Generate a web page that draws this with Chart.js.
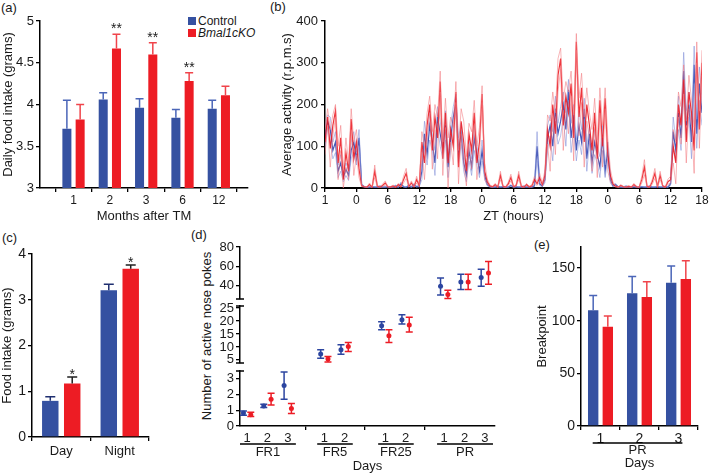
<!DOCTYPE html>
<html><head><meta charset="utf-8">
<script src="https://cdn.jsdelivr.net/npm/chart.js@4.4.1/dist/chart.umd.min.js"></script>
<style>
html,body{margin:0;padding:0;background:#fff;}
body{position:relative;width:709px;height:474px;overflow:hidden;font-family:'Liberation Sans',Arial,Helvetica,sans-serif;color:#1a1a1a;}
canvas{position:absolute;}
.t{position:absolute;white-space:nowrap;line-height:1;}
.sq{position:absolute;width:8px;height:8px;}
</style></head><body>
<div class="t" style="left:1px;top:0.5px;font-size:13px">(a)</div>
<div class="t" style="left:270px;top:0px;font-size:13px">(b)</div>
<div class="t" style="left:2px;top:230.5px;font-size:13px">(c)</div>
<div class="t" style="left:191px;top:228px;font-size:13px">(d)</div>
<div class="t" style="left:534px;top:238px;font-size:13px">(e)</div>
<div class="sq" style="left:188px;top:17px;background:#3551a1"></div>
<div class="t" style="left:198px;top:15px;font-size:12px">Control</div>
<div class="sq" style="left:188px;top:29px;background:#ed1c24"></div>
<div class="t" style="left:198px;top:27px;font-size:12px;font-style:italic">Bmal1cKO</div>
<div class="t" style="left:205.5px;top:336px;font-size:13px;transform:translate(-50%,-50%) rotate(-90deg)">Number of active nose pokes</div>

<canvas id="ca" width="258" height="224" style="left:0;top:0"></canvas>
<canvas id="cb" width="451" height="224" style="left:258px;top:0"></canvas>
<canvas id="cc" width="160" height="252" style="left:0;top:222px"></canvas>
<canvas id="cd1" width="310" height="70" style="left:200px;top:235px"></canvas>
<canvas id="cd2" width="310" height="70" style="left:200px;top:300px"></canvas>
<canvas id="cd3" width="310" height="109" style="left:200px;top:365px"></canvas>
<canvas id="ce" width="179" height="239" style="left:530px;top:235px"></canvas>
<script>
// ---------- data ----------
// (a) daily food intake
const months = ['1', '2', '3', '6', '12'];
const intakeControl = [3.71, 4.06, 3.96, 3.84, 3.95];
const intakeControlErr = [4.05, 4.14, 4.07, 3.94, 4.05];
const intakeKO = [3.82, 4.67, 4.60, 4.28, 4.11];
const intakeKOErr = [4.00, 4.84, 4.74, 4.38, 4.22];
const intakeSig = ['', '**', '**', '**', ''];

// (b) average activity (mean and SEM), half-hour samples
const ztLabels = ['1', '0', '6', '12', '18', '0', '6', '12', '18', '0', '6', '12', '18'];
const activityControl = [
  120,160,140,90,110,40,60,25,45,30,90,110,70,120,
  8,3,2,2,3,2,2,4,2,2,3,2,2,5,2,10,3,2,6,2,8,3,5,
  40,130,80,150,110,60,170,130,90,150,50,120,170,205,90,130,60,30,90,50,120,80,40,90,30,
  8,3,2,2,4,2,3,2,2,6,2,3,2,2,4,2,3,2,5,100,10,5,20,
  120,150,100,190,130,160,200,140,235,120,170,90,150,110,190,70,130,60,110,80,50,120,40,90,20,
  5,8,3,2,2,4,2,2,3,2,2,3,2,2,4,2,2,3,2,2,3,2,10,
  135,90,180,120,280,150,200,110,295,130,250,180
];
const activityControlSem = [
  25,15,30,20,25,15,20,10,15,12,20,25,15,20,
  3,1,1,1,1,1,1,2,1,1,1,1,1,2,1,4,1,1,2,1,3,1,2,
  20,30,25,35,20,30,25,30,20,35,25,30,25,20,30,25,20,15,25,20,30,25,15,25,10,
  3,1,1,1,2,1,1,1,1,2,1,1,1,1,2,1,1,1,2,35,4,2,8,
  30,25,35,30,25,35,30,40,25,35,30,25,35,30,25,30,20,25,30,20,25,30,15,20,8,
  2,3,1,1,1,2,1,1,1,1,1,1,1,1,2,1,1,1,1,1,1,1,4,
  35,25,40,30,45,35,30,40,45,35,40,30
];
const activityKO = [
  110,170,95,150,185,60,120,20,85,40,165,70,110,45,
  5,3,2,8,2,40,4,2,6,12,3,2,5,2,8,3,20,35,4,12,3,20,6,
  110,60,150,200,90,170,120,255,70,180,60,140,100,230,50,160,110,40,130,90,180,60,110,225,40,
  15,5,3,8,2,30,4,2,10,25,3,6,30,4,2,8,3,5,20,10,25,8,30,
  140,100,200,130,270,310,150,220,180,250,120,350,170,240,110,200,150,90,180,70,210,100,215,80,30,
  10,4,2,6,3,2,4,2,8,3,2,20,50,4,2,15,35,3,30,5,2,15,20,
  100,60,200,150,260,110,230,180,90,325,140,300
];
const activityKOSem = [
  30,20,45,25,15,40,30,25,35,20,25,40,30,20,
  2,1,1,4,1,15,2,1,3,5,1,1,2,1,3,1,8,12,2,5,1,8,2,
  25,40,30,20,45,30,50,25,40,35,60,30,45,25,40,30,50,35,25,45,30,40,35,20,20,
  6,2,1,3,1,10,2,1,4,8,1,2,10,2,1,3,1,2,8,4,10,3,12,
  35,60,30,50,40,25,60,35,50,30,55,20,45,35,60,40,30,50,35,45,30,50,25,40,15,
  4,2,1,2,1,1,2,1,3,1,1,8,18,2,1,6,12,1,10,2,1,6,8,
  40,50,30,45,35,50,40,30,55,25,45,30
];

// (c) food intake day / night
const phases = ['Day', 'Night'];
const phaseControl = [0.79, 3.21];
const phaseControlErr = [0.88, 3.34];
const phaseKO = [1.17, 3.68];
const phaseKOErr = [1.31, 3.76];
const phaseSig = ['*', '*'];

// (d) active nose pokes
const pokeGroups = ['FR1', 'FR1', 'FR1', 'FR5', 'FR5', 'FR25', 'FR25', 'PR', 'PR', 'PR'];
const pokeDays = ['1', '2', '3', '1', '2', '1', '2', '1', '2', '3'];
const pokeControl = [0.82, 1.28, 2.57, 7.3, 8.9, 18.2, 20.5, 39.7, 44.1, 48.6];
const pokeControlLo = [0.68, 1.18, 1.71, 5.6, 7.2, 16.6, 18.9, 30.5, 36.3, 39.7];
const pokeControlHi = [0.95, 1.39, 3.43, 8.9, 10.8, 19.7, 22.4, 48.2, 51.9, 57.0];
const pokeKO = [0.72, 1.71, 1.11, 5.3, 10.2, 14.3, 18.5, 31.2, 44.1, 53.3];
const pokeKOLo = [0.60, 1.33, 0.79, 4.2, 8.2, 11.7, 15.8, 27.0, 36.3, 41.7];
const pokeKOHi = [0.88, 2.08, 1.43, 6.3, 11.7, 16.6, 21.5, 35.6, 51.9, 65.2];

// (e) breakpoint
const prDays = ['1', '2', '3'];
const breakControl = [110, 126, 136];
const breakControlErr = [124, 142, 152];
const breakKO = [94.3, 122.6, 139.5];
const breakKOErr = [104.5, 137, 157];

// ---------- style / layout ----------
const FONT = "'Liberation Sans', Arial, Helvetica, sans-serif";
const BLUE = '#3551a1', RED = '#ed1c24';
const BLUE_ERR = '#4b66b8', RED_ERR = '#f0444b';
const INK = '#1a1a1a';
Chart.defaults.font.family = FONT;
Chart.defaults.color = INK;
Chart.defaults.animation = false;
Chart.defaults.responsive = false;
Chart.defaults.plugins.legend.display = false;
Chart.defaults.plugins.tooltip.enabled = false;

const fixW = w => s => { s.width = w; s.paddingTop = 0; s.paddingBottom = 0; s.paddingLeft = 0; s.paddingRight = 0; };
const fixH = h => s => { s.height = h; s.paddingTop = 0; s.paddingBottom = 0; s.paddingLeft = 0; s.paddingRight = 0; };
const axisGrid = { display: true, drawOnChartArea: false, drawTicks: true, tickLength: 4, color: '#000', lineWidth: 1.3 };
const axisBorder = { display: true, color: '#000', width: 1.5 };

const errPlugin = {
  id: 'errbars',
  afterDatasetsDraw(chart) {
    const ctx = chart.ctx;
    chart.data.datasets.forEach((ds, di) => {
      const meta = chart.getDatasetMeta(di);
      const ys = chart.scales[meta.yAxisID];
      if (!ds.errTop && !ds.errLo) return;
      ctx.save();
      ctx.strokeStyle = ds.errColor;
      ctx.lineWidth = 1.5;
      meta.data.forEach((el, i) => {
        let y1, y2;
        if (ds.errTop) { y1 = el.y; y2 = ys.getPixelForValue(ds.errTop[i]); }
        else { y1 = ys.getPixelForValue(ds.errLo[i]); y2 = ys.getPixelForValue(ds.errHi[i]); }
        const cap = ds.capWidth;
        ctx.beginPath();
        ctx.moveTo(el.x, y1); ctx.lineTo(el.x, y2);
        ctx.moveTo(el.x - cap / 2, y2); ctx.lineTo(el.x + cap / 2, y2);
        if (ds.errLo) { ctx.moveTo(el.x - cap / 2, y1); ctx.lineTo(el.x + cap / 2, y1); }
        ctx.stroke();
        if (ds.sig && ds.sig[i]) {
          ctx.fillStyle = INK;
          ctx.font = ds.sigSize + 'px ' + FONT;
          ctx.textAlign = 'center';
          ctx.textBaseline = 'alphabetic';
          ctx.fillText(ds.sig[i], el.x, y2 + ds.sigShift);
        }
      });
      ctx.restore();
    });
  }
};
const decorPlugin = {
  id: 'decor',
  afterDraw(chart, args, o) {
    const ctx = chart.ctx, area = chart.chartArea;
    ctx.save();
    ctx.strokeStyle = '#000'; ctx.fillStyle = INK; ctx.lineWidth = 1.5;
    (o.hooks || []).forEach(h => {
      const y = h === 'top' ? area.top : area.bottom;
      ctx.beginPath(); ctx.moveTo(area.left - 4, y); ctx.lineTo(area.left + 4, y); ctx.stroke();
    });
    if (o.groups) {
      const xs = chart.scales.x;
      ctx.font = '13px ' + FONT; ctx.textAlign = 'center'; ctx.textBaseline = 'middle';
      o.groups.forEach(g => {
        const x1 = xs.getPixelForValue(g.from), x2 = xs.getPixelForValue(g.to);
        ctx.beginPath(); ctx.moveTo(x1, area.bottom + o.lineOffset); ctx.lineTo(x2, area.bottom + o.lineOffset); ctx.stroke();
        ctx.fillText(g.label, (x1 + x2) / 2, area.bottom + o.textOffset);
      });
    }
    ctx.restore();
  }
};
Chart.register(errPlugin, decorPlugin);

// ---------- (a) ----------
new Chart(document.getElementById('ca'), {
  type: 'bar',
  data: { datasets: [
    { label: 'Control', data: intakeControl.map((v, i) => ({ x: i, y: v })), backgroundColor: BLUE,
      errTop: intakeControlErr, errColor: BLUE_ERR, capWidth: 8 },
    { label: 'Bmal1cKO', data: intakeKO.map((v, i) => ({ x: i, y: v })), backgroundColor: RED,
      errTop: intakeKOErr, errColor: RED_ERR, capWidth: 8, sig: intakeSig, sigSize: 14, sigShift: -1 }
  ] },
  options: {
    layout: { padding: { left: 0, right: 10, top: 21, bottom: 0 } },
    datasets: { bar: { categoryPercentage: 0.73, barPercentage: 0.68 } },
    scales: {
      x: { type: 'linear', min: -0.35, max: 4.23,
        afterBuildTicks: s => { s.ticks = months.map((_, i) => ({ value: i })); },
        ticks: { callback: (v, i) => months[i], font: { size: 12 }, padding: 1, autoSkip: false, maxRotation: 0 },
        grid: axisGrid, border: axisBorder,
        title: { display: true, text: 'Months after TM', font: { size: 13 }, padding: { top: 0, bottom: 0 } },
        afterFit: fixH(36) },
      y: { min: 3, max: 5,
        ticks: { stepSize: 0.5, font: { size: 13 }, padding: 2, callback: v => String(v), includeBounds: false, autoSkip: false },
        grid: axisGrid, border: axisBorder,
        title: { display: true, text: 'Daily food intake (grams)', font: { size: 13 }, padding: { top: 1, bottom: 0 } },
        afterFit: fixW(40) }
    }
  }
});

// ---------- (b) ----------
const sampleHours = activityControl.map((_, i) => i / 2);
const trace = (mean, sem, sign) => mean.map((v, i) => ({ x: sampleHours[i], y: Math.max(0, v + sign * sem[i]) }));
const thin = (color, w) => ({ borderColor: color, borderWidth: w, pointRadius: 0, tension: 0, fill: false });
new Chart(document.getElementById('cb'), {
  type: 'line',
  data: { datasets: [
    Object.assign({ label: 'KO +SEM', data: trace(activityKO, activityKOSem, 1) }, thin('rgba(242,120,125,0.55)', 1)),
    Object.assign({ label: 'KO -SEM', data: trace(activityKO, activityKOSem, -1) }, thin('rgba(242,120,125,0.55)', 1)),
    Object.assign({ label: 'Bmal1cKO', data: trace(activityKO, activityKOSem, 0) }, thin('rgba(236,30,38,0.9)', 1.2)),
    Object.assign({ label: 'Control +SEM', data: trace(activityControl, activityControlSem, 1) }, thin('rgba(125,140,215,0.55)', 1)),
    Object.assign({ label: 'Control -SEM', data: trace(activityControl, activityControlSem, -1) }, thin('rgba(125,140,215,0.55)', 1)),
    Object.assign({ label: 'Control', data: trace(activityControl, activityControlSem, 0) }, thin('rgba(50,70,175,0.9)', 1.2))
  ] },
  options: {
    layout: { padding: { left: 0, right: 7, top: 21, bottom: 0 } },
    scales: {
      x: { type: 'linear', min: 0, max: 72,
        afterBuildTicks: s => { s.ticks = ztLabels.map((_, i) => ({ value: i * 6 })); },
        ticks: { callback: (v, i) => ztLabels[i], font: { size: 12 }, padding: 1, autoSkip: false, maxRotation: 0 },
        grid: axisGrid, border: { display: true, color: '#000', width: 2 },
        title: { display: true, text: 'ZT (hours)', font: { size: 13 }, padding: { top: 0, bottom: 0 } },
        afterFit: fixH(36) },
      y: { min: 0, max: 400,
        ticks: { stepSize: 100, font: { size: 13 }, padding: 3, includeBounds: false, autoSkip: false },
        grid: axisGrid, border: axisBorder,
        title: { display: true, text: 'Average activity (r.p.m.s)', font: { size: 13 }, padding: { top: 22, bottom: 0 } },
        afterFit: fixW(67) }
    }
  }
});

// ---------- (c) ----------
new Chart(document.getElementById('cc'), {
  type: 'bar',
  data: { labels: phases, datasets: [
    { label: 'Control', data: phaseControl, backgroundColor: BLUE, errTop: phaseControlErr, errColor: '#1f2f70', capWidth: 10 },
    { label: 'Bmal1cKO', data: phaseKO, backgroundColor: RED, errTop: phaseKOErr, errColor: '#1f1f1f', capWidth: 10,
      sig: phaseSig, sigSize: 14, sigShift: 2 }
  ] },
  options: {
    layout: { padding: { left: 0, right: 11, top: 32, bottom: 0 } },
    datasets: { bar: { categoryPercentage: 0.75, barPercentage: 0.75 } },
    scales: {
      x: { ticks: { font: { size: 13 }, padding: 3 }, grid: axisGrid, border: axisBorder, afterFit: fixH(37) },
      y: { min: 0, max: 4,
        ticks: { stepSize: 1, font: { size: 14 }, padding: 2, includeBounds: false, autoSkip: false },
        grid: axisGrid, border: axisBorder,
        title: { display: true, text: 'Food intake (grams)', font: { size: 13 }, padding: { top: 0, bottom: 0 } },
        afterFit: fixW(32) }
    }
  }
});

// ---------- (d) ----------
const pokeSlots = [0, 1, 2, 3.8, 4.8, 6.8, 7.8, 9.7, 10.7, 11.7];
const pairShift = 0.18;
const segmentOf = { FR1: 'low', FR5: 'mid', FR25: 'mid', PR: 'high' };
const groupNames = [...new Set(pokeGroups)];
const groupSpans = groupNames.map(g => {
  const s = pokeSlots.filter((_, i) => pokeGroups[i] === g);
  return { label: g, from: Math.min(...s) - 0.35, to: Math.max(...s) + 0.4 };
});
const separators = [];
for (let i = 1; i < pokeSlots.length; i++) {
  if (pokeGroups[i] !== pokeGroups[i - 1]) separators.push((pokeSlots[i] + pokeSlots[i - 1]) / 2);
}
function pokeSets(seg) {
  const idx = pokeGroups.map((g, i) => i).filter(i => segmentOf[pokeGroups[i]] === seg);
  return [
    { type: 'scatter', data: idx.map(i => ({ x: pokeSlots[i] - pairShift, y: pokeControl[i] })),
      backgroundColor: '#2c45a0', borderColor: '#2c45a0', pointRadius: 2.5, borderWidth: 0, pointStyle: 'circle',
      errLo: idx.map(i => pokeControlLo[i]), errHi: idx.map(i => pokeControlHi[i]), errColor: '#2c45a0', capWidth: 7 },
    { type: 'scatter', data: idx.map(i => ({ x: pokeSlots[i] + pairShift, y: pokeKO[i] })),
      backgroundColor: '#ec1c25', borderColor: '#ec1c25', pointRadius: 2.5, borderWidth: 0, pointStyle: 'circle',
      errLo: idx.map(i => pokeKOLo[i]), errHi: idx.map(i => pokeKOHi[i]), errColor: '#ec1c25', capWidth: 7 }
  ];
}
function pokeX(show) {
  const base = { type: 'linear', min: -0.35, max: 12.2, display: show };
  if (!show) return base;
  return Object.assign(base, {
    afterBuildTicks: s => {
      s.ticks = pokeSlots.map((v, i) => ({ value: v, label: pokeDays[i] }))
        .concat(separators.map(v => ({ value: v, label: '' })))
        .sort((a, b) => a.value - b.value);
    },
    ticks: { callback: (v, i, t) => t[i].label, font: { size: 13 }, padding: 1, autoSkip: false, maxRotation: 0 },
    grid: Object.assign({}, axisGrid, { tickColor: c => (c.tick && c.tick.label === '') ? '#000' : 'rgba(0,0,0,0)' }),
    border: axisBorder,
    title: { display: true, text: 'Days', font: { size: 13 }, padding: { top: 0, bottom: 0 } },
    afterFit: fixH(48)
  });
}
function pokeY(min, max, ticks) {
  return { min: min, max: max,
    afterBuildTicks: s => { s.ticks = ticks.map(v => ({ value: v })); },
    ticks: { font: { size: 13 }, padding: 2, autoSkip: false },
    grid: axisGrid, border: axisBorder, afterFit: fixW(40) };
}
new Chart(document.getElementById('cd1'), {
  type: 'scatter', data: { datasets: pokeSets('high') },
  options: { layout: { padding: { left: 0, right: 15, top: 12, bottom: 6 } },
    plugins: { decor: { hooks: ['bottom'] } },
    scales: { x: pokeX(false), y: pokeY(26.5, 80, [40, 60, 80]) } }
});
new Chart(document.getElementById('cd2'), {
  type: 'scatter', data: { datasets: pokeSets('mid') },
  options: { layout: { padding: { left: 0, right: 15, top: 6, bottom: 7 } },
    plugins: { decor: { hooks: ['top', 'bottom'] } },
    scales: { x: pokeX(false), y: pokeY(3.8, 25.8, [5, 10, 15, 20, 25]) } }
});
new Chart(document.getElementById('cd3'), {
  type: 'scatter', data: { datasets: pokeSets('low') },
  options: { layout: { padding: { left: 0, right: 15, top: 6, bottom: 0 } },
    plugins: { decor: { hooks: ['top'], groups: groupSpans, lineOffset: 18, textOffset: 26 } },
    scales: { x: pokeX(true), y: pokeY(0, 3.5, [0, 1, 2, 3]) } }
});

// ---------- (e) ----------
new Chart(document.getElementById('ce'), {
  type: 'bar',
  data: { labels: prDays, datasets: [
    { label: 'Control', data: breakControl, backgroundColor: BLUE, errTop: breakControlErr, errColor: BLUE_ERR, capWidth: 8 },
    { label: 'Bmal1cKO', data: breakKO, backgroundColor: RED, errTop: breakKOErr, errColor: RED_ERR, capWidth: 8 }
  ] },
  options: {
    layout: { padding: { left: 0, right: 11, top: 12, bottom: 0 } },
    datasets: { bar: { categoryPercentage: 0.75, barPercentage: 0.71 } },
    plugins: { decor: { groups: [{ label: 'PR', from: -0.2, to: 2.1 }], lineOffset: 17, textOffset: 24 } },
    scales: {
      x: { ticks: { font: { size: 14 }, padding: 1 }, grid: axisGrid, border: axisBorder,
        title: { display: true, text: 'Days', font: { size: 13 }, padding: { top: 0, bottom: 3 } },
        afterFit: fixH(48) },
      y: { min: 0, max: 170,
        ticks: { stepSize: 50, font: { size: 14 }, padding: 2, includeBounds: false, autoSkip: false },
        grid: axisGrid, border: axisBorder,
        title: { display: true, text: 'Breakpoint', font: { size: 13 }, padding: { top: 5, bottom: 0 } },
        afterFit: fixW(51) }
    }
  }
});
</script>
</body></html>
